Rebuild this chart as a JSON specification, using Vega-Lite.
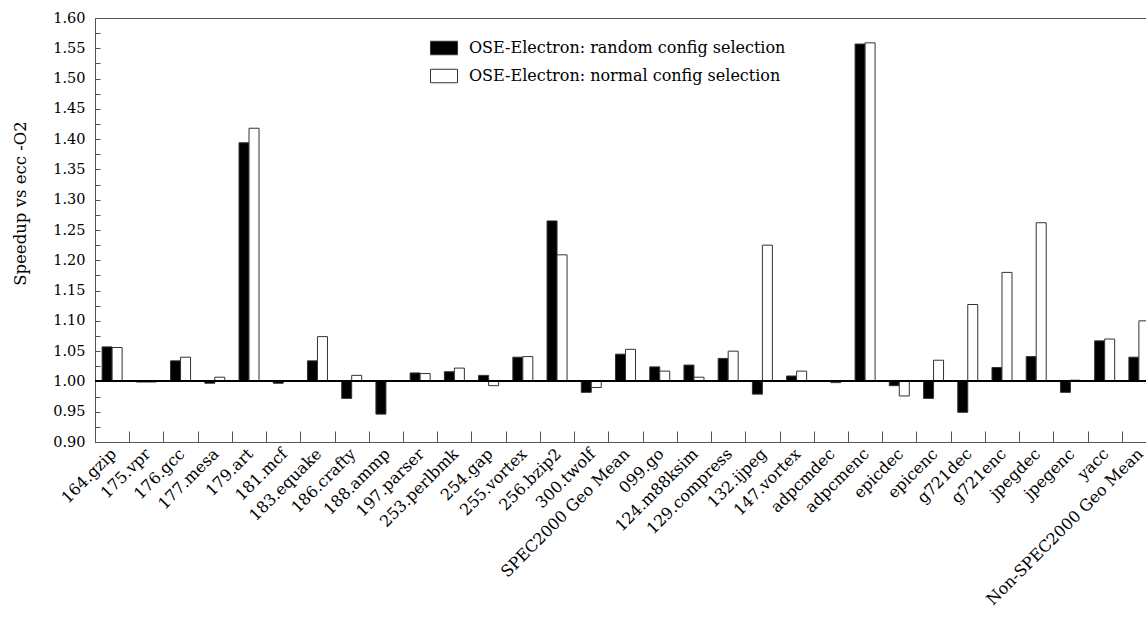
{
  "$schema": "https://vega.github.io/schema/vega-lite/v6.json",
  "autosize": {"type": "none"},
  "padding": {"left": 95, "top": 18, "right": 0, "bottom": 175},
  "width": 1051,
  "height": 424,
  "background": "white",
  "config": {
    "view": {"stroke": "#555", "strokeWidth": 1},
    "font": "DejaVu Serif",
    "axis": {"labelFont": "DejaVu Serif", "titleFont": "DejaVu Serif", "labelColor": "black", "titleColor": "black", "domainColor": "#555", "tickColor": "#555", "grid": false},
    "axisX": {"tickSize": -11},
    "axisY": {"tickSize": -5}
  },
  "resolve": {"axis": {"y": "independent"}},
  "data": {
    "values": [
      {"bench": "164.gzip", "config": "OSE-Electron: random config selection", "value": 1.057},
      {"bench": "164.gzip", "config": "OSE-Electron: normal config selection", "value": 1.056},
      {"bench": "175.vpr", "config": "OSE-Electron: random config selection", "value": 0.999},
      {"bench": "175.vpr", "config": "OSE-Electron: normal config selection", "value": 0.999},
      {"bench": "176.gcc", "config": "OSE-Electron: random config selection", "value": 1.034},
      {"bench": "176.gcc", "config": "OSE-Electron: normal config selection", "value": 1.040},
      {"bench": "177.mesa", "config": "OSE-Electron: random config selection", "value": 0.997},
      {"bench": "177.mesa", "config": "OSE-Electron: normal config selection", "value": 1.007},
      {"bench": "179.art", "config": "OSE-Electron: random config selection", "value": 1.394},
      {"bench": "179.art", "config": "OSE-Electron: normal config selection", "value": 1.418},
      {"bench": "181.mcf", "config": "OSE-Electron: random config selection", "value": 0.997},
      {"bench": "181.mcf", "config": "OSE-Electron: normal config selection", "value": 1.0005},
      {"bench": "183.equake", "config": "OSE-Electron: random config selection", "value": 1.034},
      {"bench": "183.equake", "config": "OSE-Electron: normal config selection", "value": 1.074},
      {"bench": "186.crafty", "config": "OSE-Electron: random config selection", "value": 0.972},
      {"bench": "186.crafty", "config": "OSE-Electron: normal config selection", "value": 1.010},
      {"bench": "188.ammp", "config": "OSE-Electron: random config selection", "value": 0.946},
      {"bench": "188.ammp", "config": "OSE-Electron: normal config selection", "value": 1.001},
      {"bench": "197.parser", "config": "OSE-Electron: random config selection", "value": 1.014},
      {"bench": "197.parser", "config": "OSE-Electron: normal config selection", "value": 1.013},
      {"bench": "253.perlbmk", "config": "OSE-Electron: random config selection", "value": 1.016},
      {"bench": "253.perlbmk", "config": "OSE-Electron: normal config selection", "value": 1.022},
      {"bench": "254.gap", "config": "OSE-Electron: random config selection", "value": 1.010},
      {"bench": "254.gap", "config": "OSE-Electron: normal config selection", "value": 0.993},
      {"bench": "255.vortex", "config": "OSE-Electron: random config selection", "value": 1.040},
      {"bench": "255.vortex", "config": "OSE-Electron: normal config selection", "value": 1.041},
      {"bench": "256.bzip2", "config": "OSE-Electron: random config selection", "value": 1.265},
      {"bench": "256.bzip2", "config": "OSE-Electron: normal config selection", "value": 1.209},
      {"bench": "300.twolf", "config": "OSE-Electron: random config selection", "value": 0.982},
      {"bench": "300.twolf", "config": "OSE-Electron: normal config selection", "value": 0.990},
      {"bench": "SPEC2000 Geo Mean", "config": "OSE-Electron: random config selection", "value": 1.045},
      {"bench": "SPEC2000 Geo Mean", "config": "OSE-Electron: normal config selection", "value": 1.053},
      {"bench": "099.go", "config": "OSE-Electron: random config selection", "value": 1.024},
      {"bench": "099.go", "config": "OSE-Electron: normal config selection", "value": 1.017},
      {"bench": "124.m88ksim", "config": "OSE-Electron: random config selection", "value": 1.027},
      {"bench": "124.m88ksim", "config": "OSE-Electron: normal config selection", "value": 1.007},
      {"bench": "129.compress", "config": "OSE-Electron: random config selection", "value": 1.038},
      {"bench": "129.compress", "config": "OSE-Electron: normal config selection", "value": 1.050},
      {"bench": "132.ijpeg", "config": "OSE-Electron: random config selection", "value": 0.979},
      {"bench": "132.ijpeg", "config": "OSE-Electron: normal config selection", "value": 1.225},
      {"bench": "147.vortex", "config": "OSE-Electron: random config selection", "value": 1.009},
      {"bench": "147.vortex", "config": "OSE-Electron: normal config selection", "value": 1.017},
      {"bench": "adpcmdec", "config": "OSE-Electron: random config selection", "value": 1.001},
      {"bench": "adpcmdec", "config": "OSE-Electron: normal config selection", "value": 0.998},
      {"bench": "adpcmenc", "config": "OSE-Electron: random config selection", "value": 1.557},
      {"bench": "adpcmenc", "config": "OSE-Electron: normal config selection", "value": 1.559},
      {"bench": "epicdec", "config": "OSE-Electron: random config selection", "value": 0.993},
      {"bench": "epicdec", "config": "OSE-Electron: normal config selection", "value": 0.976},
      {"bench": "epicenc", "config": "OSE-Electron: random config selection", "value": 0.972},
      {"bench": "epicenc", "config": "OSE-Electron: normal config selection", "value": 1.035},
      {"bench": "g721dec", "config": "OSE-Electron: random config selection", "value": 0.949},
      {"bench": "g721dec", "config": "OSE-Electron: normal config selection", "value": 1.127},
      {"bench": "g721enc", "config": "OSE-Electron: random config selection", "value": 1.023},
      {"bench": "g721enc", "config": "OSE-Electron: normal config selection", "value": 1.180},
      {"bench": "jpegdec", "config": "OSE-Electron: random config selection", "value": 1.041},
      {"bench": "jpegdec", "config": "OSE-Electron: normal config selection", "value": 1.262},
      {"bench": "jpegenc", "config": "OSE-Electron: random config selection", "value": 0.982},
      {"bench": "jpegenc", "config": "OSE-Electron: normal config selection", "value": 1.002},
      {"bench": "yacc", "config": "OSE-Electron: random config selection", "value": 1.067},
      {"bench": "yacc", "config": "OSE-Electron: normal config selection", "value": 1.070},
      {"bench": "Non-SPEC2000 Geo Mean", "config": "OSE-Electron: random config selection", "value": 1.040},
      {"bench": "Non-SPEC2000 Geo Mean", "config": "OSE-Electron: normal config selection", "value": 1.100}
    ]
  },
  "layer": [
    {
      "mark": {"type": "bar", "stroke": "#333", "strokeWidth": 1},
      "encoding": {
        "x": {
          "field": "bench",
          "type": "nominal",
          "sort": null,
          "scale": {"range": [0, 1061], "paddingInner": 0, "paddingOuter": 0},
          "axis": {
            "title": null,
            "labelAngle": -45,
            "labelAlign": "right",
            "labelBaseline": "middle",
            "labelFontSize": 16,
            "labelPadding": 20,
            "labelOffset": 1,
            "labelLimit": 0,
            "tickBand": "extent",
            "ticks": true,
            "labelOverlap": false
          }
        },
        "xOffset": {
          "field": "config",
          "type": "nominal",
          "sort": ["OSE-Electron: random config selection", "OSE-Electron: normal config selection"],
          "scale": {"paddingInner": 0, "paddingOuter": 0.711}
        },
        "y": {
          "field": "value",
          "type": "quantitative",
          "scale": {"domain": [0.9, 1.6], "zero": false, "nice": false},
          "axis": {
            "title": "Speedup vs ecc -O2",
            "titleFontSize": 16.5,
            "titleFontWeight": "normal",
            "titlePadding": 24,
            "titleY": 185,
            "values": [0.9, 0.925, 0.95, 0.975, 1.0, 1.025, 1.05, 1.075, 1.1, 1.125, 1.15, 1.175, 1.2, 1.225, 1.25, 1.275, 1.3, 1.325, 1.35, 1.375, 1.4, 1.425, 1.45, 1.475, 1.5, 1.525, 1.55, 1.575, 1.6],
            "labelExpr": "abs(round(datum.value * 40)) % 2 == 0 ? format(datum.value, '.2f') : ''",
            "labelFontSize": 14.5,
            "labelPadding": 15,
            "ticks": true,
            "tickSize": -5,
            "labelOverlap": false
          }
        },
        "y2": {"datum": 1},
        "color": {
          "field": "config",
          "type": "nominal",
          "sort": ["OSE-Electron: random config selection", "OSE-Electron: normal config selection"],
          "scale": {"domain": ["OSE-Electron: random config selection", "OSE-Electron: normal config selection"], "range": ["black", "white"]},
          "legend": {
            "title": null,
            "orient": "none",
            "legendX": 335,
            "legendY": 16,
            "padding": 0,
            "symbolType": "M-1,-0.5H1V0.5H-1Z",
            "symbolSize": 729,
            "symbolStrokeColor": "#333",
            "symbolStrokeWidth": 1,
            "symbolOpacity": 1,
            "labelFont": "DejaVu Serif",
            "labelFontSize": 16,
            "labelColor": "black",
            "labelOffset": 11,
            "labelLimit": 0,
            "rowPadding": 5
          }
        }
      }
    },
    {
      "mark": {"type": "rule", "color": "black", "strokeWidth": 1},
      "encoding": {"y": {"datum": 1, "type": "quantitative", "axis": null}}
    }
  ]
}
